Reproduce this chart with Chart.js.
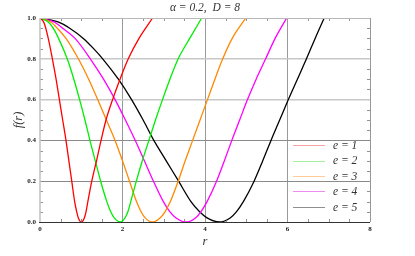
<!DOCTYPE html>
<html><head><meta charset="utf-8">
<script src="https://cdn.jsdelivr.net/npm/chart.js@4/dist/chart.umd.min.js"></script>
<style>html,body{margin:0;padding:0;background:#fff}#wrap{width:415px;height:256px;position:relative}</style>
</head><body><div id="wrap"><canvas id="c" width="415" height="256"></canvas></div>
<script>
// ---- data ----
const seriesLabels = ['e = 1', 'e = 2', 'e = 3', 'e = 4', 'e = 5'];
const xTickLabels = ['0', '2', '4', '6', '8'];
const yTickLabels = ['0.0', '0.2', '0.4', '0.6', '0.8', '1.0'];

const r1 = [0, 0.1, 0.2, 0.3, 0.39, 0.47, 0.55, 0.63, 0.7, 0.77, 0.84, 0.89, 0.93, 1.0, 1.075, 1.115, 1.16, 1.255, 1.37, 1.48, 1.6, 1.76, 1.94, 2.14, 2.4, 2.73];
const f1 = [1, 0.975, 0.9, 0.8, 0.7, 0.6, 0.5, 0.4, 0.3, 0.2, 0.1, 0.05, 0.02, 0, 0.02, 0.05, 0.1, 0.2, 0.3, 0.4, 0.5, 0.6, 0.7, 0.8, 0.9, 1.0];

const r2 = [0, 0.2, 0.32, 0.45, 0.66, 0.82, 0.96, 1.09, 1.21, 1.34, 1.47, 1.62, 1.715, 1.8, 1.95, 2.06, 2.13, 2.2, 2.335, 2.48, 2.64, 2.8, 2.97, 3.15, 3.35, 3.63, 3.92];
const f2 = [1, 0.98, 0.95, 0.9, 0.8, 0.7, 0.6, 0.5, 0.4, 0.3, 0.2, 0.1, 0.05, 0.02, 0, 0.02, 0.05, 0.1, 0.2, 0.3, 0.4, 0.5, 0.6, 0.7, 0.8, 0.9, 1.0];

const r3 = [0, 0.26, 0.42, 0.63, 0.93, 1.18, 1.4, 1.61, 1.82, 2.0, 2.17, 2.34, 2.45, 2.55, 2.72, 2.91, 3.03, 3.16, 3.35, 3.52, 3.7, 3.88, 4.06, 4.24, 4.43, 4.66, 4.99];
const f3 = [1, 0.98, 0.95, 0.9, 0.8, 0.7, 0.6, 0.5, 0.4, 0.3, 0.2, 0.1, 0.05, 0.02, 0, 0.02, 0.05, 0.1, 0.2, 0.3, 0.4, 0.5, 0.6, 0.7, 0.8, 0.9, 1.0];

const r4 = [0, 0.35, 0.55, 0.85, 1.22, 1.54, 1.82, 2.07, 2.31, 2.53, 2.75, 2.99, 3.15, 3.3, 3.54, 3.77, 3.9, 4.05, 4.28, 4.47, 4.65, 4.84, 5.03, 5.24, 5.47, 5.7, 5.98];
const f4 = [1, 0.98, 0.95, 0.9, 0.8, 0.7, 0.6, 0.5, 0.4, 0.3, 0.2, 0.1, 0.05, 0.02, 0, 0.02, 0.05, 0.1, 0.2, 0.3, 0.4, 0.5, 0.6, 0.7, 0.8, 0.9, 1.0];

const r5 = [0, 0.45, 0.72, 1.05, 1.3, 1.52, 1.9, 2.22, 2.5, 2.76, 3.06, 3.36, 3.66, 3.87, 4.05, 4.35, 4.61, 4.76, 4.93, 5.19, 5.4, 5.6, 5.81, 6.02, 6.24, 6.46, 6.67, 6.89];
const f5 = [1, 0.98, 0.95, 0.9, 0.85, 0.8, 0.7, 0.6, 0.5, 0.4, 0.3, 0.2, 0.1, 0.05, 0.02, 0, 0.02, 0.05, 0.1, 0.2, 0.3, 0.4, 0.5, 0.6, 0.7, 0.8, 0.9, 1.0];

const seriesR = [r1, r2, r3, r4, r5];
const seriesF = [f1, f2, f3, f4, f5];
const lineColors = ['#ff0000', '#00ee00', '#ff8800', '#ff00ff', '#000000'];
const legendColors = ['#f5a3a3', '#a3f0a3', '#ffcc99', '#f08cf0', '#8f8f8f'];

const datasets = seriesR.map((rs, i) => ({
  label: seriesLabels[i],
  data: rs.map((r, j) => ({x: r, y: seriesF[i][j]})),
  showLine: true,
  borderColor: lineColors[i],
  backgroundColor: lineColors[i],
  borderWidth: 1.3,
  pointRadius: 0,
  cubicInterpolationMode: 'monotone',
  fill: false
}));

const serif = "'Liberation Serif', 'DejaVu Serif', serif";

const decor = {
  id: 'decor',
  afterDraw(chart) {
    const ctx = chart.ctx;
    const xs = chart.scales.x, ys = chart.scales.y;
    const L = xs.getPixelForValue(0), R = xs.getPixelForValue(8);
    const T = ys.getPixelForValue(1), B = ys.getPixelForValue(0);
    ctx.save();
    // minor ticks
    ctx.strokeStyle = '#777';
    ctx.lineWidth = 0.8;
    ctx.beginPath();
    for (let k = 1; k < 20; k++) {
      const v = k * 0.05;
      if (k % 4 === 0) continue;
      const y = Math.round(ys.getPixelForValue(v)) + 0.5;
      ctx.moveTo(L, y); ctx.lineTo(L + 3, y);
      ctx.moveTo(R, y); ctx.lineTo(R - 3, y);
    }
    for (let k = 1; k < 16; k++) {
      if (k % 4 === 0) continue;
      const v = k * 0.5;
      const x = Math.round(xs.getPixelForValue(v)) + 0.5;
      ctx.moveTo(x, B); ctx.lineTo(x, B - 3);
      ctx.moveTo(x, T); ctx.lineTo(x, T + 3);
    }
    ctx.stroke();
    // frame
    ctx.lineWidth = 1.6;
    ctx.strokeStyle = '#c4c4c4';
    ctx.beginPath(); ctx.moveTo(L, T); ctx.lineTo(L, B); ctx.stroke();
    ctx.lineWidth = 1;
    ctx.strokeStyle = '#b8b8b8';
    ctx.beginPath(); ctx.moveTo(L, Math.round(T) + 0.5); ctx.lineTo(R, Math.round(T) + 0.5); ctx.stroke();
    ctx.strokeStyle = '#999';
    ctx.beginPath(); ctx.moveTo(Math.round(R) + 0.5, T); ctx.lineTo(Math.round(R) + 0.5, B); ctx.stroke();
    ctx.strokeStyle = '#333';
    ctx.beginPath(); ctx.moveTo(L - 1, Math.round(B) + 0.5); ctx.lineTo(R, Math.round(B) + 0.5); ctx.stroke();

    // legend
    const rowY = [145, 160.6, 176, 191.4, 207.2];
    ctx.font = "italic 11.5px " + serif;
    ctx.textBaseline = 'middle';
    ctx.textAlign = 'left';
    for (let i = 0; i < seriesLabels.length; i++) {
      ctx.strokeStyle = legendColors[i];
      ctx.lineWidth = 1;
      ctx.beginPath();
      ctx.moveTo(293, Math.round(rowY[i]) + 0.5);
      ctx.lineTo(325, Math.round(rowY[i]) + 0.5);
      ctx.stroke();
      ctx.fillStyle = '#333';
      ctx.fillText(seriesLabels[i], 333, rowY[i] + 0.5);
    }

    // titles
    ctx.fillStyle = '#333';
    ctx.textAlign = 'center';
    ctx.font = "italic 11.5px " + serif;
    ctx.fillText('\u03B1 = 0.2,  D = 8', 205, 7.5);
    ctx.font = "italic 12.5px " + serif;
    ctx.fillText('r', 205, 241.5);
    ctx.translate(19, 120);
    ctx.rotate(-Math.PI / 2);
    ctx.fillText('f(r)', 0, 0);
    ctx.restore();
  }
};

function yGridColor(ctx) {
  const v = ctx.tick ? ctx.tick.value : null;
  if (v === null) return 'rgba(0,0,0,0)';
  if (Math.abs(v) < 1e-6 || Math.abs(v - 1) < 1e-6) return 'rgba(0,0,0,0)';
  if (v < 0.5) return '#8a8a8a';
  return '#c8c8c8';
}
function yGridWidth(ctx) {
  const v = ctx.tick ? ctx.tick.value : 0;
  return v < 0.5 ? 1 : 1.6;
}
function xGridColor(ctx) {
  const v = ctx.tick ? ctx.tick.value : null;
  if (v === null || Math.abs(v) < 1e-6 || Math.abs(v - 8) < 1e-6) return 'rgba(0,0,0,0)';
  return '#999';
}

new Chart(document.getElementById('c'), {
  type: 'scatter',
  data: { datasets },
  options: {
    responsive: false,
    animation: false,
    devicePixelRatio: 1,
    layout: { padding: { left: 0, top: 18, right: 45, bottom: 0 } },
    plugins: { legend: { display: false }, tooltip: { enabled: false }, title: { display: false } },
    scales: {
      x: {
        type: 'linear', min: 0, max: 8,
        afterFit(s) { s.height = 34; },
        border: { display: false },
        grid: { color: xGridColor, lineWidth: 1, drawTicks: false },
        ticks: {
          stepSize: 2, padding: 3, color: '#222',
          font: { family: serif, size: 7, weight: 'bold' },
          callback: (v) => xTickLabels[Math.round(v / 2)] ?? ''
        }
      },
      y: {
        type: 'linear', min: 0, max: 1,
        afterFit(s) { s.width = 40; },
        border: { display: false },
        grid: { color: yGridColor, lineWidth: yGridWidth, drawTicks: false },
        ticks: {
          stepSize: 0.2, padding: 4, color: '#222',
          font: { family: serif, size: 7, weight: 'bold' },
          callback: (v) => yTickLabels[Math.round(v * 5)] ?? ''
        }
      }
    }
  },
  plugins: [decor]
});
</script>
</body></html>
